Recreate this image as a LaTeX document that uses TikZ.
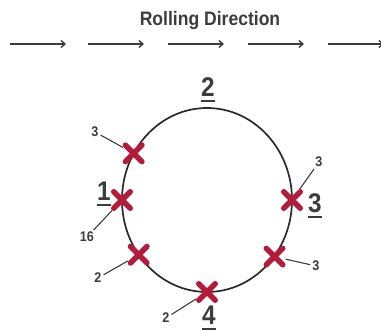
\documentclass[tikz,border=0pt]{standalone}
\usepackage{fontspec}
\setmainfont{Liberation Sans}
\newfontfamily\narrowfont[FakeStretch=0.9]{Liberation Sans}
\usepackage{xcolor}
\usepackage{tikz}
\usetikzlibrary{arrows.meta,shapes.misc}
\definecolor{ink}{RGB}{42,42,42}
\definecolor{textgray}{RGB}{60,60,60}
\definecolor{crimson}{RGB}{178,28,58}
\newcommand{\ulnum}[1]{\vtop{\hbox{#1}\kern3pt\hrule height 2pt}}
\tikzset{
  rollarrow/.style={-{Straight Barb[length=4pt,width=7pt,line width=1.4pt]},line width=1.4pt,draw=textgray},
  rim/.style={line width=1.7pt,draw=ink},
  xmark/.style={cross out,draw=crimson,line width=5.5pt,line cap=round,minimum size=11pt,inner sep=0pt},
  lead/.style={line width=1.1pt,draw=textgray,shorten >=3pt,shorten <=1pt},
  bignum/.style={font=\narrowfont\bfseries\fontsize{27}{27}\selectfont,text=textgray,inner sep=0pt},
  smallnum/.style={font=\narrowfont\bfseries\fontsize{14}{14}\selectfont,text=textgray,inner sep=1pt},
  heading/.style={font=\narrowfont\bfseries\fontsize{19.5}{20}\selectfont,text=textgray,inner sep=0pt}
}
\begin{document}
\begin{tikzpicture}[x=1pt,y=-1pt]
  \useasboundingbox (0,0) rectangle (381,331);
  \clip (0,0) rectangle (381,331);
  \node[heading] (title) at (210,21) {Rolling Direction};
  \foreach \xs in {10,88,168,248,328}
    \draw[rollarrow] (\xs,44) -- ++(56,0);
  \draw[rim] (207,200) ellipse [x radius=85,y radius=92];
  \node[xmark] (m1) at (133.7,153.4) {};
  \node[xmark] (m2) at (122,200) {};
  \node[xmark] (m3) at (138.7,254.7) {};
  \node[xmark] (m4) at (207,292) {};
  \node[xmark] (m5) at (292,200) {};
  \node[xmark] (m6) at (274.5,256.6) {};
  \node[bignum,anchor=base] (n1) at (104,201) {\ulnum{1}};
  \node[bignum,anchor=base] (n2) at (208,97) {\ulnum{2}};
  \node[bignum,anchor=base] (n3) at (315,213) {\ulnum{3}};
  \node[bignum,anchor=base] (n4) at (209,325) {\ulnum{4}};
  \node[smallnum] (s1) at (95,132) {3};
  \node[smallnum] (s2) at (87,237) {16};
  \node[smallnum] (s3) at (98,278) {2};
  \node[smallnum] (s4) at (166,318) {2};
  \node[smallnum] (s5) at (319,162) {3};
  \node[smallnum] (s6) at (316,266) {3};
  \draw[lead] (s1) -- (m1);
  \draw[lead] (s2) -- (m2);
  \draw[lead] (s3) -- (m3);
  \draw[lead] (s4) -- (m4);
  \draw[lead] (s5) -- (m5);
  \draw[lead] (s6) -- (m6);
\end{tikzpicture}
\end{document}
